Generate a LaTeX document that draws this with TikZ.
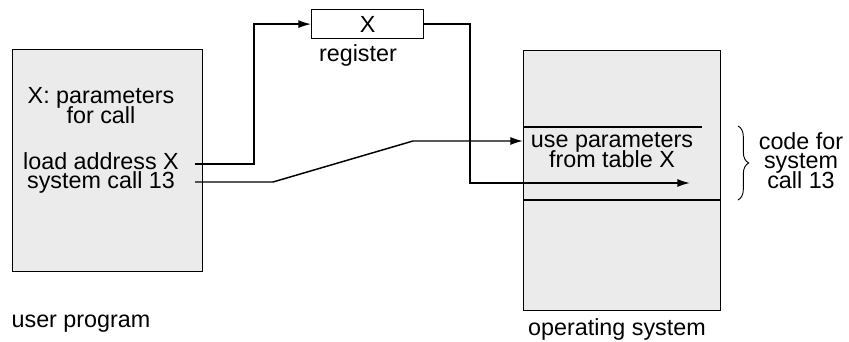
\documentclass[tikz,border=0pt]{standalone}
\usepackage{fontspec}
\setmainfont{Liberation Sans}
\usetikzlibrary{arrows.meta,decorations.pathreplacing}
% let close lines of a text block sit tight, without extra \lineskip
\newcommand\tightlines{\lineskiplimit -30pt\relax}
\begin{document}
\begin{tikzpicture}[x=0.75pt,y=-0.75pt,
  font=\fontsize{17.5}{20}\selectfont,
  membox/.style={draw, line width=1pt, fill=gray!16, inner sep=0pt, anchor=north west},
  regbox/.style={draw, line width=0.9pt, fill=white, inner sep=0pt, anchor=north west},
  txt/.style={inner sep=0pt, anchor=base},
  block/.style={inner sep=0pt, anchor=base, align=center,
    font=\fontsize{17.5}{15}\selectfont\tightlines},
  link/.style={line width=1.1pt, -{Latex[length=9.5pt,width=6pt]}},
  sep/.style={line width=0.9pt}]
\useasboundingbox (0,0) rectangle (849,342);

% memory blocks and the register
\node[membox, minimum width=142.5pt, minimum height=166.5pt] (user) at (12,49) {};
\node[membox, minimum width=147.75pt, minimum height=195pt] (os) at (523,50) {};
\node[regbox, minimum width=84pt, minimum height=21.75pt] (reg) at (311,9) {};
\node[inner sep=0pt] (regx) at (reg.center) {X};
\node[txt] (reglbl) at (358,62) {register};

% code section inside the operating system
\coordinate (secTopL) at (523,127);
\coordinate (secTopR) at (702,127);
\coordinate (secBotL) at (523,200);
\coordinate (secBotR) at (720,200);
\draw[sep] (secTopL) -- (secTopR);
\draw[sep] (secBotL) -- (secBotR);

% user program text (anchored on the baseline of the last line)
\node[block] (params) at (101,124) {X: parameters\\for call};
\node[block, font=\fontsize{17.5}{13.5}\selectfont\tightlines]
  (code) at (101,188) {load address X\\system call 13};
\node[txt] (userlbl) at (81,327) {user program};

% operating system text
\node[block] (usep) at (612,168) {use parameters\\from table X};
\node[txt] (oslbl) at (617,335) {operating system};

% brace and its label
\coordinate (brTop) at (738,126);
\coordinate (brBot) at (738,200);
\draw[line width=0.7pt, decorate, decoration={brace, amplitude=8pt}] (brTop) -- (brBot);
\node[block, font=\fontsize{17.5}{14.6}\selectfont\tightlines]
  (codefor) at (801,188) {code for\\system\\call 13};

% connectors
\coordinate (loadOut) at (195,164);
\coordinate (sysOut) at (195,182);
\coordinate (osIn) at (523,141);
\coordinate (osCode) at (690,183);
\draw[link] (loadOut) -- (254,164) |- (reg.west);
\draw[link] (reg.east) -| (470,183) -- (osCode);
\draw[link] (sysOut) -- (273,182) -- (413,141) -- (osIn);
\end{tikzpicture}
\end{document}
